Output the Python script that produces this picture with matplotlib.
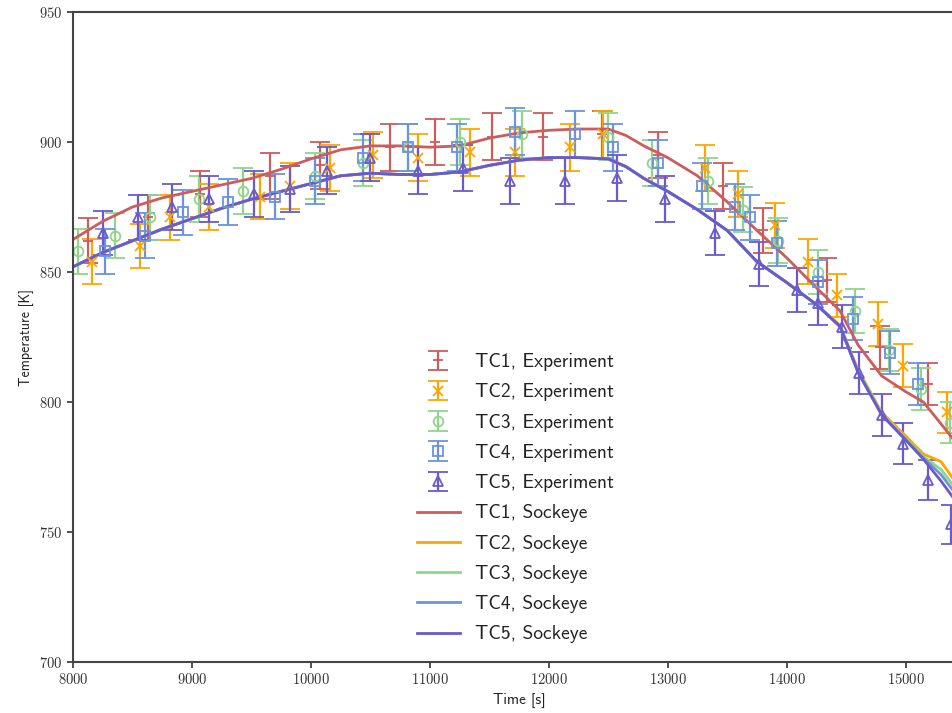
import matplotlib
matplotlib.use("Agg")
import matplotlib.pyplot as plt

plt.rcParams['axes.formatter.use_mathtext'] = True

# experiment data
t_tc1 = [8126, 8630, 9067, 9655, 10076, 10664, 11042, 11521, 11950, 12445, 12916, 13462, 13798, 14336, 14782, 15185]
T_tc1 = [862, 871, 880, 887, 891, 898, 900, 902, 902, 903, 895, 883, 866, 847, 821, 807]

t_tc2 = [8160, 8563, 8815, 9143, 9571, 9824, 10160, 10521, 10899, 11336, 11714, 12176, 12454, 13311, 13588, 13899,
         14176, 14420, 14765, 14975, 15345]
T_tc2 = [854, 860, 871, 875, 879, 883, 890, 895, 894, 896, 896, 898, 903, 890, 880, 868, 854, 841, 830, 814, 796]

t_tc3 = [8042, 8353, 8647, 9059, 9429, 10034, 10437, 10815, 11252, 11773, 12496, 12865, 13336, 13630, 13924, 14260,
         14571, 14865, 15134, 15370]
T_tc3 = [858, 864, 871, 878, 881, 887, 892, 898, 900, 903, 902, 892, 885, 874, 862, 850, 835, 820, 805, 792]

t_tc4 = [8269, 8605, 8924, 9303, 9697, 10034, 10437, 10815, 11227, 11714, 12218, 12538, 12916, 13286, 13563, 13689,
         13916, 14260, 14555, 14866, 15101]
T_tc4 = [858, 864, 873, 877, 879, 885, 894, 898, 898, 904, 903, 898, 892, 883, 875, 871, 861, 846, 832, 819, 807]

t_tc5 = [8252, 8546, 8832, 9143, 9521, 9824, 10134, 10496, 10899, 11277, 11672, 12134, 12571, 12975, 13395, 13765,
         14084, 14260, 14462, 14605, 14798, 14975, 15193, 15386]
T_tc5 = [865, 871, 875, 878, 880, 882, 889, 894, 889, 890, 885, 885, 886, 878, 865, 853, 843, 838, 829, 811, 795,
         784, 770, 753]

rel_err = 0.01  # thermocouple uncertainty

# Sockeye results
t_sim = [8000, 8250, 8500, 8750, 9000, 9250, 9500, 9750, 10000, 10250, 10500, 10750, 11000, 11250, 11500, 11750,
         12000, 12250, 12500, 12650, 12800, 13000, 13250, 13500, 13750, 14000, 14250, 14450, 14600, 14800, 15000,
         15150, 15300, 15500]
sim_tc1 = [862.5, 869.5, 875, 878.5, 881, 883.5, 886, 889.5, 893.5, 897, 898.5, 898.5, 898, 898.5, 901.5, 903.5,
           904.5, 905, 905, 902.5, 898.5, 894, 887, 877, 866, 855.5, 844, 835, 822, 810, 804,
           800, 791.5, 780]
sim_tc2 = [852, 857.5, 862, 866.5, 870.5, 874.5, 878, 881, 884, 887, 888, 887.5, 887.5, 888.5, 891, 893,
           894, 894, 893.5, 890.5, 886, 881, 874, 866, 854, 846, 837.5, 829.5, 812.5, 796, 787,
           780, 777, 764]
sim_tc3 = [852, 857.5, 862, 866.5, 870.5, 874.5, 878, 881, 884, 887, 888, 887.5, 887.5, 888.5, 891, 893,
           894, 894, 893.5, 890.5, 886, 881, 874, 866, 854, 846, 837.5, 829, 812, 795.5, 786,
           779, 774, 762]
sim_tc4 = [852, 857.5, 862, 866.5, 870.5, 874.5, 878, 881, 884, 887, 888, 887.5, 887.5, 888.5, 891, 893,
           894, 894, 893.5, 890.5, 886, 881, 874, 866, 854, 846, 837.5, 829, 811.5, 795, 785.5,
           778.5, 772, 760]
sim_tc5 = [852, 857.5, 862, 866.5, 870.5, 874.5, 878, 881, 884, 887, 888, 887.5, 887.5, 888.5, 891, 893,
           894, 894, 893.5, 890.5, 886, 881, 874, 866, 854, 846, 837.5, 829, 811.5, 795, 785.5,
           778, 769.5, 757]

names = ["TC1", "TC2", "TC3", "TC4", "TC5"]
colors = ['#cd5c5c', '#ffa500', '#8fd68a', '#6b93e0', '#6a5acd']
markers = ['+', 'x', 'o', 's', '^']
exp_t = [t_tc1, t_tc2, t_tc3, t_tc4, t_tc5]
exp_T = [T_tc1, T_tc2, T_tc3, T_tc4, T_tc5]
sims = [sim_tc1, sim_tc2, sim_tc3, sim_tc4, sim_tc5]

fig = plt.figure(figsize=(9.53, 7.13), dpi=100)
ax = fig.add_axes([73 / 953, 51 / 713, 892 / 953, 650 / 713])

exp_handles = []
for i in range(5):
    err = [v * rel_err for v in exp_T[i]]
    h = ax.errorbar(exp_t[i], exp_T[i], yerr=err, fmt=markers[i], color=colors[i], mfc='none',
                    markersize=7, mew=1.3, elinewidth=1.6, capsize=7, capthick=1.6,
                    label=f"{names[i]}, Experiment")
    exp_handles.append(h)

sim_handles = []
for i in range(5):
    h, = ax.plot(t_sim, sims[i], color=colors[i], linewidth=2.0, label=f"{names[i]}, Sockeye")
    sim_handles.append(h)

ax.set_xlim(8000, 15500)
ax.set_ylim(700, 950)
ax.set_xticks([8000, 9000, 10000, 11000, 12000, 13000, 14000, 15000])
ax.set_yticks([700, 750, 800, 850, 900, 950])
for lab in ax.get_xticklabels() + ax.get_yticklabels():
    lab.set_fontfamily('cmr10')
    lab.set_fontsize(10.5)
    lab.set_color('#333333')
ax.tick_params(length=4, width=1.2, color='#333333')
for s in ax.spines.values():
    s.set_linewidth(1.5)
    s.set_color('#444444')

ax.set_xlabel("Time [s]", fontfamily='cmss10', fontsize=11, color='#222222')
ax.set_ylabel("Temperature [K]", fontfamily='cmss10', fontsize=10, color='#222222')

leg = ax.legend(handles=exp_handles + sim_handles, loc='upper left', bbox_to_anchor=(0.366, 0.502),
                frameon=False, prop={'family': 'cmss10', 'size': 14}, handlelength=2.2,
                handletextpad=0.8, labelspacing=0.63)
for t in leg.get_texts():
    t.set_color('#222222')

fig.savefig("out.png", dpi=100)
